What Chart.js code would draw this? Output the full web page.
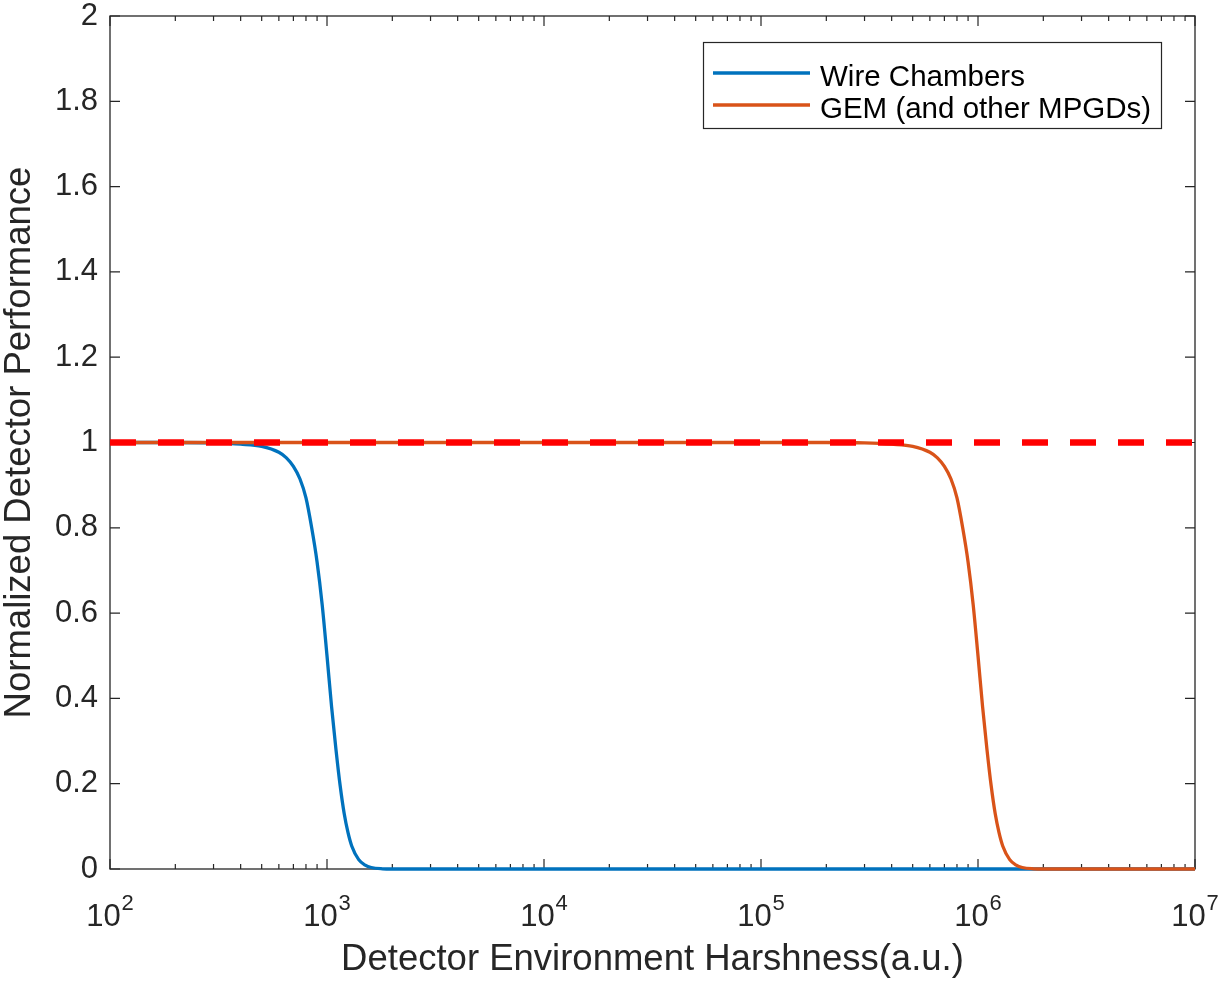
<!DOCTYPE html>
<html>
<head>
<meta charset="utf-8">
<script src="https://cdn.jsdelivr.net/npm/chart.js@4.4.1/dist/chart.umd.min.js"></script>
<style>
  html, body { margin: 0; padding: 0; background: #ffffff; }
  #wrap { width: 1218px; height: 983px; }
</style>
</head>
<body>
<div id="wrap"><canvas id="c" width="1218" height="983"></canvas></div>
<script>
// ---- Data ----
const wireX = [100, 200, 300, 400, 500, 600, 650, 700, 750, 800, 850, 900, 950, 1000, 1050, 1100, 1150, 1200, 1250, 1300, 1400, 1500, 1600, 1800, 2000, 5000, 10000, 100000, 1000000, 10000000];
const wireY = [1, 1, 0.999, 0.996, 0.991, 0.977, 0.964, 0.944, 0.915, 0.87, 0.80, 0.72, 0.62, 0.50, 0.38, 0.28, 0.195, 0.13, 0.085, 0.054, 0.022, 0.009, 0.0035, 0.0005, 0, 0, 0, 0, 0, 0];
const gemX = [100, 1000, 10000, 100000, 200000, 300000, 400000, 500000, 600000, 650000, 700000, 750000, 800000, 850000, 900000, 950000, 1000000, 1050000, 1100000, 1150000, 1200000, 1250000, 1300000, 1400000, 1500000, 1600000, 1800000, 2000000, 5000000, 10000000];
const gemY = [1, 1, 1, 1, 1, 0.999, 0.996, 0.991, 0.977, 0.964, 0.944, 0.915, 0.87, 0.80, 0.72, 0.62, 0.50, 0.38, 0.28, 0.195, 0.13, 0.085, 0.054, 0.022, 0.009, 0.0035, 0.0005, 0, 0, 0];
const refX = [100, 10000000];
const refY = [1, 1];
const seriesNames = ['Wire Chambers', 'GEM (and other MPGDs)'];
const xTickValues = [100, 1000, 10000, 100000, 1000000, 10000000];
const xTickExponents = ['2', '3', '4', '5', '6', '7'];
const yTickLabels = ['0', '0.2', '0.4', '0.6', '0.8', '1', '1.2', '1.4', '1.6', '1.8', '2'];
const xTitle = 'Detector Environment Harshness(a.u.)';
const yTitle = 'Normalized Detector Performance';

const FONT = '"Liberation Sans", Arial, Helvetica, sans-serif';
const INK = '#262626';
const BLUE = '#0072BD';
const ORANGE = '#D95319';

function pts(xs, ys) { return xs.map((x, i) => ({ x: x, y: ys[i] })); }

const axesPlugin = {
  id: 'matlabAxes',
  beforeDatasetsDraw(chart) {
    const ctx = chart.ctx;
    const a = chart.chartArea;
    const xs = chart.scales.x, ys = chart.scales.y;
    ctx.save();
    ctx.strokeStyle = INK;
    ctx.lineWidth = 1.3;
    ctx.strokeRect(a.left, a.top, a.right - a.left, a.bottom - a.top);
    ctx.lineWidth = 1.2;
    ctx.beginPath();
    yTickLabels.forEach(l => {
      const py = ys.getPixelForValue(parseFloat(l));
      ctx.moveTo(a.left, py); ctx.lineTo(a.left + 10, py);
      ctx.moveTo(a.right, py); ctx.lineTo(a.right - 10, py);
    });
    for (let d = 0; d < xTickValues.length; d++) {
      const base = xTickValues[d];
      const px = xs.getPixelForValue(base);
      ctx.moveTo(px, a.bottom); ctx.lineTo(px, a.bottom - 10);
      ctx.moveTo(px, a.top); ctx.lineTo(px, a.top + 10);
      if (d < xTickValues.length - 1) {
        for (let m = 2; m <= 9; m++) {
          const mx = xs.getPixelForValue(base * m);
          ctx.moveTo(mx, a.bottom); ctx.lineTo(mx, a.bottom - 5);
          ctx.moveTo(mx, a.top); ctx.lineTo(mx, a.top + 5);
        }
      }
    }
    ctx.stroke();
    ctx.fillStyle = INK;
    ctx.textBaseline = 'alphabetic';
    ctx.textAlign = 'left';
    xTickValues.forEach((v, i) => {
      const px = xs.getPixelForValue(v);
      ctx.font = '31px ' + FONT;
      const w1 = ctx.measureText('10').width;
      ctx.font = '22px ' + FONT;
      const w2 = ctx.measureText(xTickExponents[i]).width;
      const start = px - (w1 + 1 + w2) / 2;
      ctx.font = '31px ' + FONT;
      ctx.fillText('10', start, 926);
      ctx.font = '22px ' + FONT;
      ctx.fillText(xTickExponents[i], start + w1 + 1, 910);
    });
    ctx.restore();
  },
  afterDatasetsDraw(chart) {
    const ctx = chart.ctx;
    ctx.save();
    const bx = 703, by = 42, bw = 458, bh = 86;
    ctx.fillStyle = '#ffffff';
    ctx.fillRect(bx, by, bw, bh);
    ctx.strokeStyle = INK;
    ctx.lineWidth = 1.2;
    ctx.strokeRect(bx + 0.5, by + 0.5, bw, bh);
    const rows = [
      { ds: chart.data.datasets[2], ly: 73, ty: 86 },
      { ds: chart.data.datasets[1], ly: 105, ty: 118 }
    ];
    ctx.font = '29.5px ' + FONT;
    ctx.textBaseline = 'alphabetic';
    ctx.textAlign = 'left';
    rows.forEach(r => {
      ctx.strokeStyle = r.ds.borderColor;
      ctx.lineWidth = 3.3;
      ctx.beginPath();
      ctx.moveTo(713, r.ly); ctx.lineTo(810, r.ly);
      ctx.stroke();
      ctx.fillStyle = '#000000';
      ctx.fillText(r.ds.label, 820, r.ty);
    });
    ctx.restore();
  }
};

new Chart(document.getElementById('c'), {
  type: 'line',
  data: {
    datasets: [
      {
        label: 'reference',
        data: pts(refX, refY),
        borderColor: '#FF0000',
        borderWidth: 6.5,
        borderDash: [26, 22],
        pointRadius: 0,
        order: 0,
        clip: 6
      },
      {
        label: seriesNames[1],
        data: pts(gemX, gemY),
        borderColor: ORANGE,
        borderWidth: 3.3,
        pointRadius: 0,
        cubicInterpolationMode: 'monotone',
        order: 1,
        clip: 4
      },
      {
        label: seriesNames[0],
        data: pts(wireX, wireY),
        borderColor: BLUE,
        borderWidth: 3.3,
        pointRadius: 0,
        cubicInterpolationMode: 'monotone',
        order: 2,
        clip: 4
      }
    ]
  },
  options: {
    responsive: false,
    devicePixelRatio: 1,
    animation: false,
    layout: { padding: { top: 16, right: 23, left: 0, bottom: 0 } },
    plugins: { legend: { display: false }, tooltip: { enabled: false } },
    scales: {
      x: {
        type: 'logarithmic',
        min: 100,
        max: 10000000,
        grid: { display: false },
        border: { display: false },
        ticks: { display: false },
        title: {
          display: true,
          text: xTitle,
          color: INK,
          font: { family: FONT, size: 36.5, lineHeight: 1 },
          padding: { top: 0, bottom: 4.5 }
        },
        afterFit(s) { s.height = 114; s.paddingLeft = 0; s.paddingRight = 0; }
      },
      y: {
        type: 'linear',
        min: 0,
        max: 2,
        grid: { display: false },
        border: { display: false },
        ticks: {
          stepSize: 0.2,
          padding: 4,
          color: INK,
          font: { family: FONT, size: 31 },
          callback: (v, i) => yTickLabels[i]
        },
        title: {
          display: true,
          text: yTitle,
          color: INK,
          font: { family: FONT, size: 36.5, lineHeight: 1 },
          padding: { top: 2, bottom: 0 }
        },
        afterFit(s) { s.width = 110; s.paddingTop = 0; s.paddingBottom = 0; }
      }
    }
  },
  plugins: [axesPlugin]
});
</script>
</body>
</html>
